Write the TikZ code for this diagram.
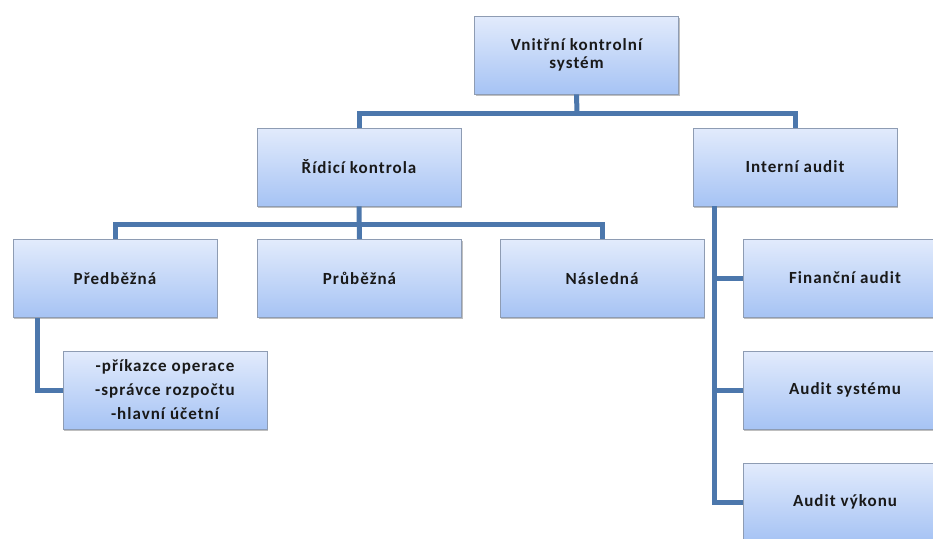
\documentclass[tikz,border=0pt]{standalone}
\usepackage{fontspec}
\setmainfont[LetterSpace=6]{Carlito}
\usetikzlibrary{shadows,calc}
\definecolor{boxtop}{HTML}{E2EBFC}
\definecolor{boxbot}{HTML}{A6C3F4}
\definecolor{boxline}{HTML}{8E9CB3}
\definecolor{conncol}{HTML}{4C77AC}
\tikzset{
  box/.style={rectangle, draw=boxline, line width=0.8pt, top color=boxtop, bottom color=boxbot,
    minimum width=204pt, minimum height=78pt, inner sep=2pt, align=center,
    font=\fontsize{17}{18}\selectfont\bfseries, text=black!90,
    drop shadow={shadow xshift=1.2pt, shadow yshift=-1.8pt, opacity=0.5, fill=gray}},
  conn/.style={draw=conncol, line width=5pt}
}
\begin{document}
\begin{tikzpicture}[x=1pt,y=-1pt]
\clip (0,0) rectangle (933,538);
\fill[white] (0,0) rectangle (933,538);
\coordinate (j1) at (577,113);
\coordinate (j2) at (359,224);
\coordinate (p1) at (37,318);
\coordinate (i1) at (714,206);
\node[box] (top) at (576.5,55) {Vnitřní kontrolní\\systém};
\node[box] (rk) at (359,167) {Řídicí kontrola};
\node[box] (ia) at (795,167) {Interní audit};
\node[box] (pr) at (115,278.5) {Předběžná};
\node[box] (pb) at (359.5,278.5) {Průběžná};
\node[box] (na) at (602,278.5) {Následná};
\node[box, font=\fontsize{17}{24}\selectfont\bfseries] (pk) at (165,390) {-příkazce operace\\-správce rozpočtu\\-hlavní účetní};
\node[box] (fa) at (845,278) {Finanční audit};
\node[box] (as) at (845,390) {Audit systému};
\node[box] (av) at (845,502) {Audit výkonu};
\draw[conn] (top.south) -- (j1);
\draw[conn] (rk.north) |- (j1) -| (ia.north);
\draw[conn] (rk.south) -- (pb.north);
\draw[conn] (pr.north) |- (j2) -| (na.north);
\draw[conn] (p1) |- (pk.west);
\draw[conn] (i1) |- (av.west);
\draw[conn] (fa.west) -- (fa.west -| i1);
\draw[conn] (as.west) -- (as.west -| i1);
\end{tikzpicture}
\end{document}
